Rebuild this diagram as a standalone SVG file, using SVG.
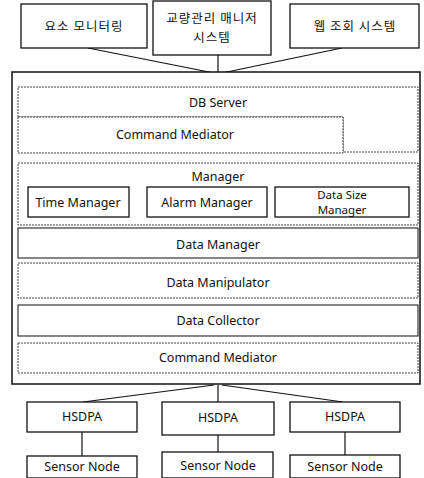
<svg xmlns="http://www.w3.org/2000/svg" width="424" height="478" viewBox="0 0 424 478">
<style>
.box{fill:#fff;stroke:#111;stroke-width:1.3}
.layer{fill:#fff;stroke:#444;stroke-width:1;stroke-dasharray:2 1}
.layerS{fill:#fff;stroke:#222;stroke-width:1.1}
.kr{font-family:"Noto Sans CJK KR","Noto Sans",sans-serif;font-size:12.5px;fill:#111;text-anchor:middle;letter-spacing:1px}
.en{font-family:"Noto Sans","DejaVu Sans",sans-serif;font-size:12.5px;fill:#111;text-anchor:middle}
.sm{font-size:11.5px}
.conn{stroke:#111;stroke-width:1.2;fill:none}
</style>
<g id="connectors">
<line class="conn" x1="88" y1="48" x2="214" y2="73"/>
<line class="conn" x1="218" y1="55" x2="218" y2="73"/>
<line class="conn" x1="342" y1="48" x2="222" y2="73"/>
<line class="conn" x1="214" y1="385" x2="83" y2="402"/>
<line class="conn" x1="218" y1="385" x2="218" y2="402"/>
<line class="conn" x1="222" y1="385" x2="343" y2="402"/>
<line class="conn" x1="82" y1="432" x2="82" y2="456"/>
<line class="conn" x1="218" y1="435" x2="218" y2="452"/>
<line class="conn" x1="345" y1="432" x2="345" y2="455"/>
</g>
<g id="top1"><rect class="box" x="21" y="4" width="126" height="44"/><text class="kr" x="84" y="31">요소 모니터링</text></g>
<g id="top2"><rect class="box" x="153" y="1" width="118" height="54"/><text class="kr" x="212" y="23">교량관리 매니저</text><text class="kr" x="212" y="42">시스템</text></g>
<g id="top3"><rect class="box" x="290" y="4" width="129" height="44"/><text class="kr" x="355" y="31">웹 조회 시스템</text></g>
<g id="server"><rect x="12" y="72" width="408" height="312" fill="#fff" stroke="#111" stroke-width="1.5"/></g>
<g id="dbserver"><path class="layer" d="M18 87H418V152H343V117H18Z"/><text class="en" x="218" y="107">DB Server</text></g>
<g id="cmdmed1"><rect class="layer" x="18" y="117" width="325" height="36"/><text class="en" x="175" y="139">Command Mediator</text></g>
<g id="manager"><rect class="layer" x="18" y="163" width="400" height="62"/><text class="en" x="218" y="181">Manager</text>
<rect class="box" x="28" y="187" width="101" height="30"/><text class="en" x="78" y="207">Time Manager</text>
<rect class="box" x="147" y="187" width="120" height="30"/><text class="en" x="207" y="207">Alarm Manager</text>
<rect class="box" x="275" y="187" width="134" height="30"/><text class="en sm" x="342" y="199">Data Size</text><text class="en sm" x="342" y="214">Manager</text></g>
<g id="datamanager"><rect class="layerS" x="18" y="228" width="400" height="30"/><text class="en" x="218" y="249">Data Manager</text></g>
<g id="datamanip"><rect class="layer" x="18" y="263" width="400" height="35"/><text class="en" x="218" y="287">Data Manipulator</text></g>
<g id="datacoll"><rect class="layerS" x="18" y="305" width="400" height="31"/><text class="en" x="218" y="325">Data Collector</text></g>
<g id="cmdmed2"><rect class="layer" x="18" y="343" width="400" height="30"/><text class="en" x="218" y="362">Command Mediator</text></g>
<g id="hsdpa1"><rect class="box" x="27" y="402" width="110" height="30"/><text class="en" x="82" y="421">HSDPA</text></g>
<g id="hsdpa2"><rect class="box" x="162" y="402" width="112" height="33"/><text class="en" x="218" y="422">HSDPA</text></g>
<g id="hsdpa3"><rect class="box" x="290" y="402" width="110" height="30"/><text class="en" x="345" y="421">HSDPA</text></g>
<g id="sensor1"><rect class="box" x="27" y="456" width="110" height="22"/><text class="en" x="82" y="471">Sensor Node</text></g>
<g id="sensor2"><rect class="box" x="162" y="452" width="111" height="26"/><text class="en" x="218" y="470">Sensor Node</text></g>
<g id="sensor3"><rect class="box" x="290" y="455" width="110" height="23"/><text class="en" x="345" y="471">Sensor Node</text></g>
</svg>
